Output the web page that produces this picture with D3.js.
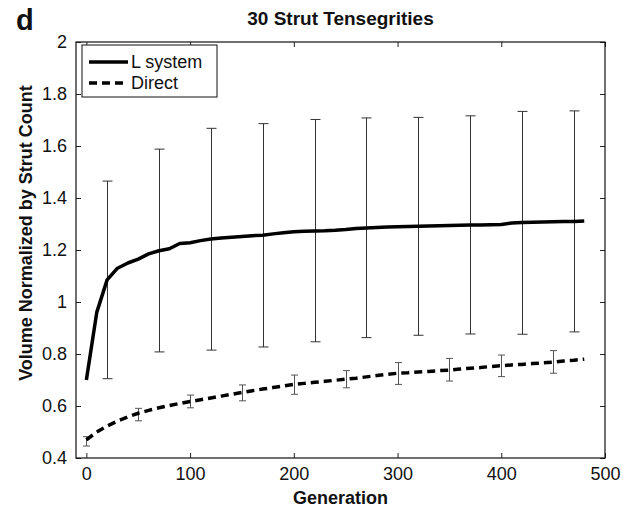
<!DOCTYPE html>
<html>
<head>
<meta charset="utf-8">
<script src="https://cdn.jsdelivr.net/npm/d3@7"></script>
<style>
  html, body { margin: 0; padding: 0; background: #fff; }
  svg { display: block; font-family: "Liberation Sans", Arial, Helvetica, sans-serif; }
</style>
</head>
<body>
<svg id="chart" width="623" height="509"></svg>
<script>
// Mean volume (normalized by strut count) over generations, sampled every 10 generations
const generations = [0,10,20,30,40,50,60,70,80,90,100,110,120,130,140,150,160,170,180,190,200,
  210,220,230,240,250,260,270,280,290,300,310,320,330,340,350,360,370,380,390,400,
  410,420,430,440,450,460,470,480];

const lSystem = [0.700,0.960,1.085,1.130,1.150,1.165,1.185,1.197,1.205,1.225,1.228,
  1.236,1.242,1.246,1.249,1.252,1.255,1.257,1.262,1.266,1.270,
  1.272,1.273,1.274,1.276,1.279,1.283,1.285,1.287,1.288,1.289,
  1.290,1.291,1.292,1.293,1.294,1.295,1.296,1.296,1.297,1.298,
  1.304,1.306,1.307,1.308,1.309,1.310,1.310,1.312];

const direct = [0.470,0.500,0.523,0.542,0.558,0.572,0.583,0.593,0.602,0.610,0.617,
  0.624,0.631,0.638,0.645,0.652,0.659,0.665,0.671,0.677,0.683,
  0.687,0.691,0.695,0.699,0.703,0.707,0.712,0.717,0.722,0.726,
  0.728,0.731,0.733,0.736,0.738,0.742,0.745,0.748,0.752,0.755,
  0.758,0.760,0.763,0.766,0.769,0.773,0.776,0.780];

// Error bar ranges
const lSystemErrGen  = [20,70,120,170,220,270,320,370,420,470];
const lSystemErrLow  = [0.705,0.808,0.815,0.827,0.847,0.863,0.872,0.877,0.876,0.885];
const lSystemErrHigh = [1.465,1.588,1.668,1.686,1.702,1.708,1.710,1.716,1.733,1.735];

const directErrGen  = [0,50,100,150,200,250,300,350,400,450];
const directErrLow  = [0.446,0.543,0.593,0.620,0.645,0.670,0.683,0.696,0.713,0.726];
const directErrHigh = [0.482,0.591,0.642,0.681,0.719,0.736,0.767,0.783,0.796,0.813];

const xTicks = [0,100,200,300,400,500];
const yTicks = [0.4,0.6,0.8,1,1.2,1.4,1.6,1.8,2];

const titleText = "30 Strut Tensegrities";
const xLabel = "Generation";
const yLabel = "Volume Normalized by Strut Count";
const panelLetter = "d";
const seriesNames = ["L system", "Direct"];

const svg = d3.select("#chart");
const plotL = 76, plotR = 605, plotT = 42, plotB = 458;

const x = d3.scaleLinear().domain([-10, 500]).range([plotL, plotR]);
const y = d3.scaleLinear().domain([0.4, 2]).range([plotB, plotT]);

const fmt = d => String(+d.toFixed(1));

// Axes with inward ticks on all four sides
const gx = svg.append("g").attr("transform", `translate(0,${plotB})`)
  .call(d3.axisBottom(x).tickValues(xTicks).tickSizeInner(-5).tickSizeOuter(0).tickPadding(9).tickFormat(d3.format("d")));
const gxTop = svg.append("g").attr("transform", `translate(0,${plotT})`)
  .call(d3.axisTop(x).tickValues(xTicks).tickSizeInner(-5).tickSizeOuter(0).tickFormat(""));
const gy = svg.append("g").attr("transform", `translate(${plotL},0)`)
  .call(d3.axisLeft(y).tickValues(yTicks).tickSizeInner(-5).tickSizeOuter(0).tickPadding(9).tickFormat(fmt));
const gyRight = svg.append("g").attr("transform", `translate(${plotR},0)`)
  .call(d3.axisRight(y).tickValues(yTicks).tickSizeInner(-5).tickSizeOuter(0).tickFormat(""));

[gx, gxTop, gy, gyRight].forEach(g => {
  g.attr("font-family", null).attr("font-size", null);
  g.select(".domain").remove();
  g.selectAll(".tick line").attr("stroke", "#222").attr("stroke-width", 1);
  g.selectAll(".tick text").attr("fill", "#111").style("font-size", "18px");
});

// Plot box
svg.append("rect")
  .attr("x", plotL).attr("y", plotT)
  .attr("width", plotR - plotL).attr("height", plotB - plotT)
  .attr("fill", "none").attr("stroke", "#111").attr("stroke-width", 1.2);

// Error bars
function errorBars(gens, lows, highs, capHalf, color, width) {
  const g = svg.append("g").attr("stroke", color).attr("stroke-width", width).attr("fill", "none");
  gens.forEach((gen, i) => {
    const cx = Math.round(x(gen)) + 0.5;
    const yl = y(lows[i]), yh = y(highs[i]);
    g.append("line").attr("x1", cx).attr("x2", cx).attr("y1", yl).attr("y2", yh);
    g.append("line").attr("x1", cx - capHalf).attr("x2", cx + capHalf).attr("y1", yl).attr("y2", yl);
    g.append("line").attr("x1", cx - capHalf).attr("x2", cx + capHalf).attr("y1", yh).attr("y2", yh);
  });
}
errorBars(lSystemErrGen, lSystemErrLow, lSystemErrHigh, 5, "#333", 1);
errorBars(directErrGen, directErrLow, directErrHigh, 3.5, "#555", 1);

// Series lines
const line = d3.line().x((d, i) => x(generations[i])).y(d => y(d));
svg.append("path").datum(lSystem)
  .attr("d", line).attr("fill", "none").attr("stroke", "#000")
  .attr("stroke-width", 3.5).attr("stroke-linejoin", "round");
svg.append("path").datum(direct)
  .attr("d", line).attr("fill", "none").attr("stroke", "#000")
  .attr("stroke-width", 3.5).attr("stroke-dasharray", "8,5");

// Legend
const lg = svg.append("g");
lg.append("rect").attr("x", 82).attr("y", 45).attr("width", 135).attr("height", 52)
  .attr("fill", "#fff").attr("stroke", "#111").attr("stroke-width", 1);
const legendRows = [{name: seriesNames[0], dash: null, yy: 62}, {name: seriesNames[1], dash: "8,5", yy: 83}];
legendRows.forEach(r => {
  lg.append("line").attr("x1", 89).attr("x2", 128).attr("y1", r.yy).attr("y2", r.yy)
    .attr("stroke", "#000").attr("stroke-width", 3.5).attr("stroke-dasharray", r.dash);
  lg.append("text").attr("x", 131).attr("y", r.yy).attr("dy", "0.35em")
    .style("font-size", "18px").attr("fill", "#111").text(r.name);
});

// Titles and labels
svg.append("text").attr("x", (plotL + plotR) / 2).attr("y", 25)
  .attr("text-anchor", "middle").style("font-size", "19px").style("font-weight", "bold")
  .attr("fill", "#111").text(titleText);
svg.append("text").attr("x", 16).attr("y", 30)
  .style("font-size", "29px").style("font-weight", "bold").attr("fill", "#111").text(panelLetter);
svg.append("text").attr("x", (plotL + plotR) / 2).attr("y", 504)
  .attr("text-anchor", "middle").style("font-size", "18px").style("font-weight", "bold")
  .attr("fill", "#111").text(xLabel);
svg.append("text").attr("transform", "translate(32,233) rotate(-90)")
  .attr("text-anchor", "middle").style("font-size", "18px").style("font-weight", "bold")
  .attr("fill", "#111").text(yLabel);
</script>
</body>
</html>
